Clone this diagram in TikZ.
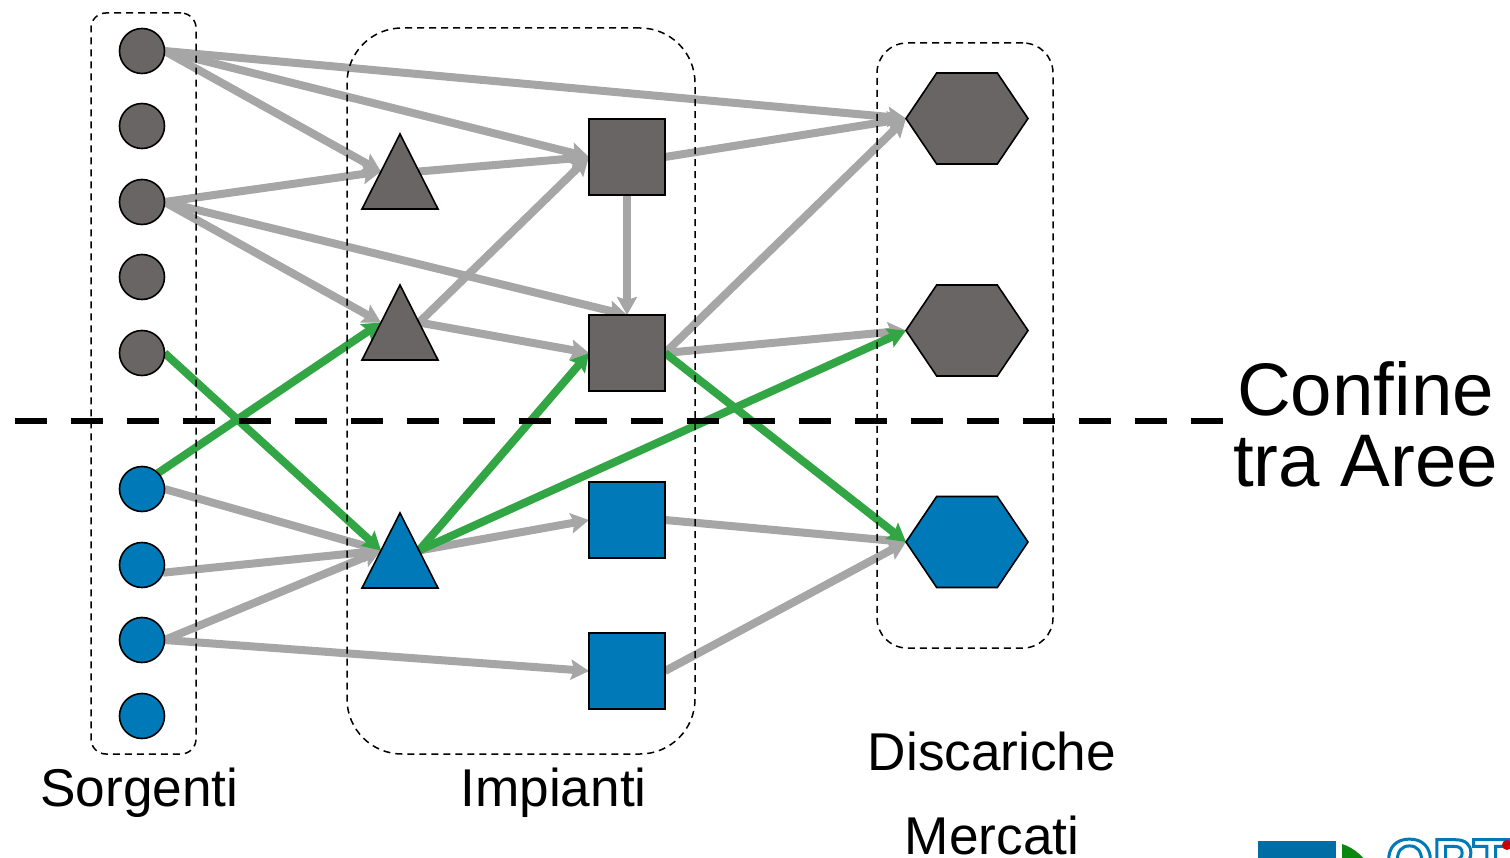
\documentclass[tikz,border=0pt]{standalone}
\usepackage{fontspec}
\setmainfont{Liberation Sans}
\usetikzlibrary{arrows.meta,shapes.geometric,shapes.symbols,backgrounds}
\definecolor{gr}{HTML}{696564}
\definecolor{bl}{HTML}{0079B8}
\definecolor{ar}{HTML}{A6A6A6}
\definecolor{gn}{HTML}{32A544}
\tikzset{
  x=1pt,y=-1pt,
  base/.style={draw=black,line width=1.6pt,inner sep=0pt,outer sep=0pt},
  circ/.style={base,circle,minimum size=45pt},
  tri/.style={base,isosceles triangle,isosceles triangle apex angle=53.8,isosceles triangle stretches,shape border rotate=90,minimum width=76pt,minimum height=75pt},
  sq/.style={base,rectangle,minimum size=76pt},
  hex/.style={base,signal,signal to=east and west,signal pointer angle=112,minimum width=122pt,minimum height=91pt},
  grey/.style={fill=gr},
  blue/.style={fill=bl},
  link/.style={draw=ar,line width=8pt,-{Stealth[length=18pt,width=20pt,inset=3pt]}},
  glink/.style={link,draw=gn},
  group/.style={draw=black,line width=1.5pt,dash pattern=on 7pt off 5pt,rectangle,inner sep=0pt},
  lab/.style={inner sep=0pt,font=\fontsize{53.2}{60}\selectfont,text=black},
  big/.style={inner sep=0pt,font=\fontsize{74.5}{71}\selectfont,text=black,align=center},
}
\begin{document}
\begin{tikzpicture}
\useasboundingbox (0,0) rectangle (1510,858);
% groups
\node[group,rounded corners=15pt,minimum width=105pt,minimum height=741pt] (gs) at (143.5,383.5) {};
\node[group,rounded corners=55pt,minimum width=348pt,minimum height=726pt] (gi) at (521,391) {};
\node[group,rounded corners=30pt,minimum width=176pt,minimum height=605pt] (gd) at (965,345.5) {};
% boundary
\coordinate (cl) at (15,421);
\coordinate (cr) at (1225,421);
\draw[line width=6pt,dash pattern=on 32pt off 24pt] (cl) -- (cr);
% nodes
\node[circ,grey] (c1) at (142,51) {};
\node[circ,grey] (c2) at (142,126) {};
\node[circ,grey] (c3) at (142,202) {};
\node[circ,grey] (c4) at (142,277) {};
\node[circ,grey] (c5) at (142,353) {};
\node[circ,blue] (c6) at (142,489) {};
\node[circ,blue] (c7) at (142,565) {};
\node[circ,blue] (c8) at (142,640) {};
\node[circ,blue] (c9) at (142,716) {};
\node[tri,grey,anchor=apex] (t1) at (400,134) {};
\node[tri,grey,anchor=apex] (t2) at (400,285) {};
\node[tri,blue,anchor=apex] (t3) at (400,513) {};
\node[sq,grey] (s1) at (627,157) {};
\node[sq,grey] (s2) at (627,353) {};
\node[sq,blue] (s3) at (627,520) {};
\node[sq,blue] (s4) at (627,671) {};
\node[hex,grey] (h1) at (967,118.5) {};
\node[hex,grey] (h2) at (967,330.5) {};
\node[hex,blue] (h3) at (967,542) {};
% connectors
\begin{scope}[on background layer]
\draw[link] (c1.east) -- (h1.west);
\draw[link] (c1.east) -- (s1.west);
\draw[link] (c1.east) -- (t1.left side);
\draw[link] (c3.east) -- (t1.left side);
\draw[link] (c3.east) -- (s2.north);
\draw[link] (c3.east) -- (t2.left side);
\draw[link] (c6.east) -- (t3.left side);
\draw[link] (c7.-20) -- (t3.left side);
\draw[link] (c8.east) -- (t3.left side);
\draw[link] (c8.east) -- (s4.west);
\draw[link] (t1.right side) -- (s1.west);
\draw[link] (t2.right side) -- (s1.west);
\draw[link] (t2.right side) -- (s2.west);
\draw[link] (t3.right side) -- (s3.west);
\draw[link] (s1.south) -- (s2.north);
\draw[link] (s1.east) -- (h1.west);
\draw[link] (s2.east) -- (h1.west);
\draw[link] (s2.east) -- (h2.west);
\draw[link] (s3.east) -- (h3.west);
\draw[link] (s4.east) -- (h3.west);
\draw[glink] (c5.east) -- (t3.left side);
\draw[glink] (c6.north east) -- (t2.left side);
\draw[glink] (t3.right side) -- (s2.west);
\draw[glink] (t3.right side) -- (h2.west);
\draw[glink] (s2.east) -- (h3.west);
\end{scope}
% labels
\node[lab] (ls) at (139.5,793) {Sorgenti};
\node[lab] (li) at (553.5,793) {Impianti};
\node[lab] (ld) at (992,751) {Discariche};
\node[lab] (lm) at (992,835) {Mercati};
\node[big] (lc) at (1365.5,424) {Confine\\tra Aree};
% logo, cut off by the lower edge
\begin{scope}
\clip (1250,830) rectangle (1510,858);
\fill[bl!90!black] (1258,841) rectangle (1336,900);
\fill[green!50!black!80!gn] (1342,844) .. controls (1355,848) and (1365,858) .. (1372,870) -- (1342,880) -- cycle;
\node[anchor=base west,inner sep=0pt,text=bl,font=\bfseries\fontsize{60}{60}\selectfont] (lg) at (1386,881) {\special{pdf:code 1 Tr 3 w}OPT\special{pdf:code 0 Tr}};
\fill[red!80!black] (1507,845) circle (5pt);
\end{scope}
\end{tikzpicture}
\end{document}
